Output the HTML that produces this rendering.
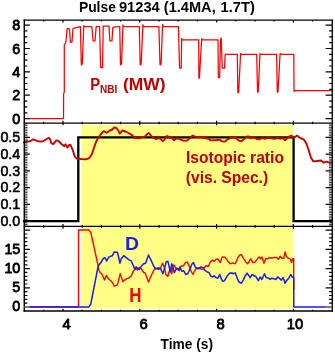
<!DOCTYPE html><html><head><meta charset="utf-8"><style>
html,body{margin:0;padding:0;background:#fff;}
body{width:335px;height:354px;overflow:hidden;font-family:"Liberation Sans",sans-serif;}
svg{display:block;will-change:transform}
text{font-family:"Liberation Sans",sans-serif;}
</style></head><body>
<svg width="335" height="354" viewBox="0 0 335 354">
<rect x="0" y="0" width="335" height="354" fill="#fff"/>
<rect x="81.2" y="125.0" width="212.0" height="183.7" fill="#ffff85"/>
<polyline fill="none" stroke="#ff0000" stroke-width="1.25" stroke-linejoin="round" points="29.5,118.5 63.5,118.5 63.6,94.0 64.3,92.0 64.3,45.0 65.8,42.5 67.0,29.4 67.4,28.6 69.3,28.6 70.5,42.5 72.0,42.0 73.0,28.3 80.4,26.6 81.3,64.6 81.7,64.9 82.3,63.4 83.8,25.6 84.2,26.5 91.8,26.5 93.1,40.9 95.0,40.9 96.2,26.5 99.6,26.5 100.6,67.5 102.6,67.5 103.2,26.0 109.0,26.2 109.9,40.9 112.0,40.9 112.8,27.5 115.0,26.8 119.7,26.5 120.5,64.6 120.9,64.9 121.5,63.4 123.0,25.0 123.6,26.5 139.3,26.5 140.2,64.6 140.6,64.9 141.2,63.4 142.9,24.7 143.5,26.5 158.9,26.5 160.0,64.6 160.4,64.9 161.1,63.4 162.6,24.3 162.9,26.5 178.4,26.5 179.6,68.1 181.2,68.1 181.7,38.4 182.2,39.8 198.7,39.8 198.9,78.2 199.4,78.2 201.7,38.6 202.2,39.8 218.0,39.8 218.3,77.5 219.6,77.5 220.5,39.5 221.2,38.0 222.2,68.1 223.4,68.1 224.6,68.1 225.1,54.3 237.3,54.3 237.8,92.6 238.6,92.6 240.6,53.6 241.1,54.3 256.7,54.3 257.5,92.0 258.2,92.0 260.0,53.6 260.5,54.3 276.6,54.3 277.3,92.0 278.0,92.0 280.1,53.4 280.6,54.3 293.8,54.3 294.0,91.6 294.3,90.6 332.0,90.6"/>
<polyline fill="none" stroke="#000" stroke-width="2.3" stroke-linejoin="miter" points="22.9,221.1 78.3,221.1 78.3,137.4 293.6,137.4 293.6,221.1 332.5,221.1"/>
<polyline fill="none" stroke="#cc0000" stroke-width="1.9" stroke-linejoin="round" stroke-linecap="butt" points="23.1,142.7 26.3,141.8 30.0,141.2 33.2,139.3 36.3,140.6 40.0,141.6 43.2,141.2 46.3,139.3 48.8,137.8 50.1,139.3 51.3,143.1 53.2,144.1 55.1,141.8 56.3,140.3 58.2,140.8 61.8,144.3 64.3,146.2 65.5,144.3 67.4,147.4 69.3,144.9 70.5,144.9 72.4,149.3 74.9,156.8 76.8,158.7 85.6,159.4 89.3,158.1 91.8,154.3 95.6,143.1 97.3,139.3 99.8,135.5 102.9,131.8 104.1,131.2 106.7,132.8 109.8,130.5 112.3,129.5 114.2,127.4 116.0,128.0 117.9,129.9 119.8,133.7 122.3,130.5 125.4,131.5 128.6,133.0 131.7,134.9 134.8,138.0 136.5,137.8 139.0,138.4 141.5,137.4 144.7,136.8 147.2,134.0 148.8,133.0 150.3,134.9 152.8,137.4 155.9,139.0 159.1,138.0 160.9,139.3 162.8,141.2 164.7,139.3 166.3,136.2 167.8,136.2 169.7,138.0 171.6,137.4 173.9,140.3 176.4,138.3 178.9,138.7 181.4,139.9 183.9,140.8 187.0,140.6 190.2,137.8 192.7,135.5 195.2,136.8 198.3,137.4 202.1,137.0 205.2,138.0 208.3,138.7 210.8,140.4 213.1,140.3 216.3,140.3 219.4,139.6 221.9,141.2 225.0,141.6 227.5,139.3 230.7,137.8 233.8,137.4 236.3,138.0 238.8,140.6 241.3,141.2 243.8,139.3 246.3,136.8 248.8,136.5 250.5,138.3 253.0,137.4 256.1,138.7 259.3,139.3 261.8,138.0 264.9,138.7 268.0,137.8 271.2,138.3 274.3,138.7 277.4,138.0 280.6,138.7 283.1,138.0 285.0,140.3 286.8,138.5 288.2,137.1 291.1,135.6 294.1,137.8 297.0,135.6 299.9,137.8 303.6,139.3 306.5,143.7 308.7,150.3 310.9,157.6 313.1,161.3 316.8,161.0 321.2,160.5 323.4,162.7 326.3,161.7 329.3,162.7 332.5,162.5"/>
<polyline fill="none" stroke="#ff0000" stroke-width="1.4" stroke-linejoin="round" points="29.5,306.8 78.5,306.8 78.5,230.0 88.8,230.0 90.7,232.1 98.2,266.0 99.0,270.5 100.1,272.4 102.0,274.3 104.5,279.9 106.3,275.5 108.8,279.3 110.5,280.5 112.4,282.4 114.3,286.2 117.4,284.9 118.7,279.9 120.2,273.6 121.2,276.8 123.0,281.8 125.5,279.3 128.7,277.8 131.2,276.1 133.1,271.5 134.9,269.4 136.2,268.2 137.4,270.1 139.3,267.3 141.2,268.8 143.7,272.5 145.0,272.8 146.8,277.5 148.5,282.0 151.0,276.3 153.5,270.7 155.4,268.2 157.3,268.8 158.5,267.6 160.4,268.8 162.3,263.2 164.2,266.9 166.1,275.1 167.9,276.3 169.2,271.3 170.4,268.8 171.7,273.8 172.9,265.1 174.2,265.1 175.4,267.6 177.3,269.4 179.2,270.7 181.1,266.3 183.6,265.7 185.3,262.6 187.1,261.9 189.6,266.9 191.5,272.0 193.0,274.5 194.7,270.7 196.5,268.2 199.0,267.6 201.5,269.4 203.4,268.8 205.9,265.7 208.4,266.3 210.3,261.9 212.2,260.1 214.1,261.3 216.0,259.4 217.8,258.8 220.3,262.6 222.2,256.9 225.1,257.3 227.6,260.7 230.1,263.8 232.7,262.9 235.2,263.8 237.7,258.2 239.5,255.0 241.4,254.8 243.3,258.2 245.8,261.9 247.7,263.8 249.6,260.7 250.8,258.8 252.7,262.3 254.6,262.6 256.5,260.1 259.0,256.9 260.5,258.8 261.9,256.9 264.0,263.2 265.6,258.8 267.5,258.8 269.4,257.5 271.9,258.2 274.4,257.5 276.9,257.5 278.2,259.4 280.1,256.3 281.9,258.2 283.8,258.2 285.1,251.9 286.3,256.3 288.2,258.2 290.1,258.8 291.6,262.6 292.8,258.8 293.7,258.8 293.7,290.0"/>
<polyline fill="none" stroke="#1a1aff" stroke-width="1.5" stroke-linejoin="round" points="29.8,306.9 88.8,306.9 90.7,304.3 98.2,266.0 100.7,262.8 103.2,258.5 105.1,257.8 106.6,261.0 108.8,257.2 110.5,256.3 112.4,255.7 114.3,251.9 117.4,252.3 118.7,257.5 119.9,263.2 121.2,258.8 123.7,255.7 126.8,258.2 129.3,260.1 131.2,260.7 133.1,265.1 134.9,269.4 136.2,266.9 137.4,268.2 139.3,269.4 141.8,265.7 143.7,263.8 145.6,263.2 147.3,258.5 148.5,255.0 151.0,260.1 153.5,265.7 155.4,268.8 157.3,268.2 158.5,269.4 160.4,268.2 162.9,273.8 164.8,267.6 166.1,261.9 167.9,261.3 169.2,266.9 170.4,272.0 171.7,263.8 172.9,266.9 174.2,272.6 176.7,268.2 179.2,269.4 179.8,266.9 181.7,271.3 183.6,270.7 185.9,274.5 187.8,273.8 190.3,268.2 192.1,263.8 193.4,262.6 195.3,266.9 197.2,268.8 199.0,268.8 200.9,266.9 203.4,268.2 205.3,270.7 207.2,272.0 209.1,272.6 210.9,276.3 212.8,277.0 214.1,275.7 216.0,277.6 217.8,278.2 219.7,274.5 221.6,279.5 222.8,281.4 224.5,280.7 227.0,276.3 229.5,273.2 232.0,273.0 233.3,273.8 235.2,272.8 237.0,277.6 238.9,282.0 241.4,283.2 243.3,280.1 245.2,275.7 247.1,273.2 248.9,275.7 250.2,277.6 252.1,274.5 254.0,275.7 255.8,276.3 258.3,280.7 260.0,277.0 261.9,279.5 264.4,273.8 266.3,277.6 268.8,278.2 270.0,279.5 271.9,278.2 273.8,278.8 275.7,279.5 277.5,277.0 279.4,278.2 281.3,280.1 283.2,277.6 285.1,283.2 286.9,280.1 288.8,278.2 290.7,274.5 292.3,277.0 293.8,277.6 293.8,306.9 325.8,306.9"/>
<g stroke="#000" fill="none">
<line x1="24.30" y1="19.5" x2="24.30" y2="311.7" stroke-width="1.45"/>
<line x1="332.25" y1="19.5" x2="332.25" y2="311.7" stroke-width="1.35"/>
<line x1="23.6" y1="20.10" x2="332.9" y2="20.10" stroke-width="1.20"/>
<line x1="23.6" y1="123.05" x2="332.9" y2="123.05" stroke-width="1.20"/>
<line x1="23.6" y1="226.40" x2="332.9" y2="226.40" stroke-width="1.20"/>
<line x1="23.6" y1="311.00" x2="332.9" y2="311.00" stroke-width="1.50"/>
</g>
<path d="M24.3 226.1H27.5M328.9 226.1H332.2M24.3 224.4H27.5M328.9 224.4H332.2M24.3 222.8H27.5M328.9 222.8H332.2M24.3 219.4H27.5M328.9 219.4H332.2M24.3 217.8H27.5M328.9 217.8H332.2M24.3 216.1H27.5M328.9 216.1H332.2M24.3 214.4H27.5M328.9 214.4H332.2M24.3 212.7H27.5M328.9 212.7H332.2M24.3 211.1H27.5M328.9 211.1H332.2M24.3 209.4H27.5M328.9 209.4H332.2M24.3 207.7H27.5M328.9 207.7H332.2M24.3 206.0H27.5M328.9 206.0H332.2M24.3 202.7H27.5M328.9 202.7H332.2M24.3 201.0H27.5M328.9 201.0H332.2M24.3 199.3H27.5M328.9 199.3H332.2M24.3 197.7H27.5M328.9 197.7H332.2M24.3 196.0H27.5M328.9 196.0H332.2M24.3 194.3H27.5M328.9 194.3H332.2M24.3 192.6H27.5M328.9 192.6H332.2M24.3 191.0H27.5M328.9 191.0H332.2M24.3 189.3H27.5M328.9 189.3H332.2M24.3 185.9H27.5M328.9 185.9H332.2M24.3 184.3H27.5M328.9 184.3H332.2M24.3 182.6H27.5M328.9 182.6H332.2M24.3 180.9H27.5M328.9 180.9H332.2M24.3 179.2H27.5M328.9 179.2H332.2M24.3 177.6H27.5M328.9 177.6H332.2M24.3 175.9H27.5M328.9 175.9H332.2M24.3 174.2H27.5M328.9 174.2H332.2M24.3 172.6H27.5M328.9 172.6H332.2M24.3 169.2H27.5M328.9 169.2H332.2M24.3 167.5H27.5M328.9 167.5H332.2M24.3 165.9H27.5M328.9 165.9H332.2M24.3 164.2H27.5M328.9 164.2H332.2M24.3 162.5H27.5M328.9 162.5H332.2M24.3 160.8H27.5M328.9 160.8H332.2M24.3 159.2H27.5M328.9 159.2H332.2M24.3 157.5H27.5M328.9 157.5H332.2M24.3 155.8H27.5M328.9 155.8H332.2M24.3 152.5H27.5M328.9 152.5H332.2M24.3 150.8H27.5M328.9 150.8H332.2M24.3 149.1H27.5M328.9 149.1H332.2M24.3 147.4H27.5M328.9 147.4H332.2M24.3 145.8H27.5M328.9 145.8H332.2M24.3 144.1H27.5M328.9 144.1H332.2M24.3 142.4H27.5M328.9 142.4H332.2M24.3 140.7H27.5M328.9 140.7H332.2M24.3 139.1H27.5M328.9 139.1H332.2M24.3 135.7H27.5M328.9 135.7H332.2M24.3 134.1H27.5M328.9 134.1H332.2M24.3 132.4H27.5M328.9 132.4H332.2M24.3 130.7H27.5M328.9 130.7H332.2M24.3 129.0H27.5M328.9 129.0H332.2M24.3 127.4H27.5M328.9 127.4H332.2M24.3 125.7H27.5M328.9 125.7H332.2M24.3 124.0H27.5M328.9 124.0H332.2" stroke="#1a1a1a" stroke-width="0.85" fill="none"/>
<path d="M24.3 307.0H29.9M325.6 307.0H332.2" stroke="#505050" stroke-width="1.3" fill="none"/>
<path d="M43.7 20.1V21.4M43.7 121.8V124.3M43.7 225.1V227.7M43.7 309.7V311.0M63.0 20.1V22.4M63.0 120.8V125.3M63.0 224.1V228.7M63.0 308.7V311.0M82.2 20.1V21.4M82.2 121.8V124.3M82.2 225.1V227.7M82.2 309.7V311.0M101.4 20.1V21.4M101.4 121.8V124.3M101.4 225.1V227.7M101.4 309.7V311.0M120.6 20.1V21.4M120.6 121.8V124.3M120.6 225.1V227.7M120.6 309.7V311.0M139.8 20.1V22.4M139.8 120.8V125.3M139.8 224.1V228.7M139.8 308.7V311.0M159.0 20.1V21.4M159.0 121.8V124.3M159.0 225.1V227.7M159.0 309.7V311.0M178.2 20.1V21.4M178.2 121.8V124.3M178.2 225.1V227.7M178.2 309.7V311.0M197.4 20.1V21.4M197.4 121.8V124.3M197.4 225.1V227.7M197.4 309.7V311.0M216.6 20.1V22.4M216.6 120.8V125.3M216.6 224.1V228.7M216.6 308.7V311.0M235.8 20.1V21.4M235.8 121.8V124.3M235.8 225.1V227.7M235.8 309.7V311.0M255.0 20.1V21.4M255.0 121.8V124.3M255.0 225.1V227.7M255.0 309.7V311.0M274.2 20.1V21.4M274.2 121.8V124.3M274.2 225.1V227.7M274.2 309.7V311.0M293.4 20.1V22.4M293.4 120.8V125.3M293.4 224.1V228.7M293.4 308.7V311.0M312.6 20.1V21.4M312.6 121.8V124.3M312.6 225.1V227.7M312.6 309.7V311.0M24.3 118.6H29.9M325.6 118.6H332.2M24.3 112.8H27.4M329.1 112.8H332.2M24.3 106.9H27.4M329.1 106.9H332.2M24.3 101.1H27.4M329.1 101.1H332.2M24.3 95.2H29.9M325.6 95.2H332.2M24.3 89.4H27.4M329.1 89.4H332.2M24.3 83.5H27.4M329.1 83.5H332.2M24.3 77.7H27.4M329.1 77.7H332.2M24.3 71.8H29.9M325.6 71.8H332.2M24.3 66.0H27.4M329.1 66.0H332.2M24.3 60.1H27.4M329.1 60.1H332.2M24.3 54.3H27.4M329.1 54.3H332.2M24.3 48.5H29.9M325.6 48.5H332.2M24.3 42.6H27.4M329.1 42.6H332.2M24.3 36.8H27.4M329.1 36.8H332.2M24.3 30.9H27.4M329.1 30.9H332.2M24.3 25.1H29.9M325.6 25.1H332.2M24.3 221.1H29.9M325.6 221.1H332.2M24.3 204.4H29.9M325.6 204.4H332.2M24.3 187.6H29.9M325.6 187.6H332.2M24.3 170.9H29.9M325.6 170.9H332.2M24.3 154.1H29.9M325.6 154.1H332.2M24.3 137.4H29.9M325.6 137.4H332.2M24.3 303.2H27.4M329.1 303.2H332.2M24.3 299.3H27.4M329.1 299.3H332.2M24.3 295.5H27.4M329.1 295.5H332.2M24.3 291.6H27.4M329.1 291.6H332.2M24.3 287.8H29.9M325.6 287.8H332.2M24.3 284.0H27.4M329.1 284.0H332.2M24.3 280.1H27.4M329.1 280.1H332.2M24.3 276.3H27.4M329.1 276.3H332.2M24.3 272.4H27.4M329.1 272.4H332.2M24.3 268.6H29.9M325.6 268.6H332.2M24.3 264.8H27.4M329.1 264.8H332.2M24.3 260.9H27.4M329.1 260.9H332.2M24.3 257.1H27.4M329.1 257.1H332.2M24.3 253.2H27.4M329.1 253.2H332.2M24.3 249.4H29.9M325.6 249.4H332.2M24.3 245.6H27.4M329.1 245.6H332.2M24.3 241.7H27.4M329.1 241.7H332.2M24.3 237.9H27.4M329.1 237.9H332.2M24.3 234.0H27.4M329.1 234.0H332.2M24.3 230.2H29.9M325.6 230.2H332.2" stroke="#000" stroke-width="1.2" fill="none"/>
<text x="20.3" y="123.8" text-anchor="end" font-size="14.3" fill="#000" stroke="#000" stroke-width="0.80" stroke-linejoin="round">0</text>
<text x="20.3" y="100.4" text-anchor="end" font-size="14.3" fill="#000" stroke="#000" stroke-width="0.80" stroke-linejoin="round">2</text>
<text x="20.3" y="77.0" text-anchor="end" font-size="14.3" fill="#000" stroke="#000" stroke-width="0.80" stroke-linejoin="round">4</text>
<text x="20.3" y="53.6" text-anchor="end" font-size="14.3" fill="#000" stroke="#000" stroke-width="0.80" stroke-linejoin="round">6</text>
<text x="20.3" y="30.2" text-anchor="end" font-size="14.3" fill="#000" stroke="#000" stroke-width="0.80" stroke-linejoin="round">8</text>
<text x="20.3" y="225.7" text-anchor="end" font-size="14.3" fill="#000" stroke="#000" stroke-width="0.55" stroke-linejoin="round">0.0</text>
<text x="20.3" y="209.0" text-anchor="end" font-size="14.3" fill="#000" stroke="#000" stroke-width="0.55" stroke-linejoin="round">0.1</text>
<text x="20.3" y="192.2" text-anchor="end" font-size="14.3" fill="#000" stroke="#000" stroke-width="0.55" stroke-linejoin="round">0.2</text>
<text x="20.3" y="175.5" text-anchor="end" font-size="14.3" fill="#000" stroke="#000" stroke-width="0.55" stroke-linejoin="round">0.3</text>
<text x="20.3" y="158.7" text-anchor="end" font-size="14.3" fill="#000" stroke="#000" stroke-width="0.55" stroke-linejoin="round">0.4</text>
<text x="20.3" y="142.0" text-anchor="end" font-size="14.3" fill="#000" stroke="#000" stroke-width="0.55" stroke-linejoin="round">0.5</text>
<text x="20.3" y="311.4" text-anchor="end" font-size="14.3" fill="#000" stroke="#000" stroke-width="0.80" stroke-linejoin="round">0</text>
<text x="20.3" y="292.2" text-anchor="end" font-size="14.3" fill="#000" stroke="#000" stroke-width="0.80" stroke-linejoin="round">5</text>
<text x="20.3" y="273.0" text-anchor="end" font-size="14.3" fill="#000" stroke="#000" stroke-width="0.80" stroke-linejoin="round">10</text>
<text x="20.3" y="253.8" text-anchor="end" font-size="14.3" fill="#000" stroke="#000" stroke-width="0.80" stroke-linejoin="round">15</text>
<text x="66.5" y="329.3" text-anchor="middle" font-size="14.8" fill="#000" stroke="#000" stroke-width="0.8" stroke-linejoin="round">4</text>
<text x="143.5" y="329.3" text-anchor="middle" font-size="14.8" fill="#000" stroke="#000" stroke-width="0.8" stroke-linejoin="round">6</text>
<text x="220.6" y="329.3" text-anchor="middle" font-size="14.8" fill="#000" stroke="#000" stroke-width="0.8" stroke-linejoin="round">8</text>
<text x="294.9" y="329.3" text-anchor="middle" font-size="14.8" fill="#000" stroke="#000" stroke-width="0.8" stroke-linejoin="round">10</text>
<text x="78.9" y="11.9" font-size="14.4" font-weight="bold" fill="#000" textLength="37.0" lengthAdjust="spacingAndGlyphs">Pulse</text>
<text x="118.9" y="11.9" font-size="14.4" font-weight="bold" fill="#000" textLength="40.9" lengthAdjust="spacingAndGlyphs">91234</text>
<text x="163.8" y="11.9" font-size="14.4" font-weight="bold" fill="#000" textLength="51.9" lengthAdjust="spacingAndGlyphs">(1.4MA,</text>
<text x="220.5" y="11.9" font-size="14.4" font-weight="bold" fill="#000" textLength="34.3" lengthAdjust="spacingAndGlyphs">1.7T)</text>
<text id="xt" x="160.6" y="348.5" font-size="14.5" font-weight="bold" textLength="52.4" lengthAdjust="spacingAndGlyphs">Time (s)</text>
<text transform="translate(90.20,89.70) scale(0.950,1)" font-size="15.6" font-weight="bold" fill="#c00000">P</text>
<text transform="translate(100.10,93.20) scale(1.000,1)" font-size="10.0" font-weight="bold" fill="#c00000">NBI</text>
<text transform="translate(122.90,89.70) scale(1.120,1)" font-size="15.6" font-weight="bold" fill="#c00000">(MW)</text>
<text transform="translate(186.00,162.50) scale(1.000,1)" font-size="15.6" font-weight="bold" fill="#c00000">Isotopic ratio</text>
<text transform="translate(185.80,183.40) scale(1.000,1)" font-size="15.6" font-weight="bold" fill="#c00000">(vis. Spec.)</text>
<text transform="translate(124.90,249.60) scale(1.090,1)" font-size="17.8" font-weight="bold" fill="#1a1aff">D</text>
<text transform="translate(129.20,301.80) scale(0.870,1)" font-size="19.4" font-weight="bold" fill="#ff0000">H</text>
</svg></body></html>
